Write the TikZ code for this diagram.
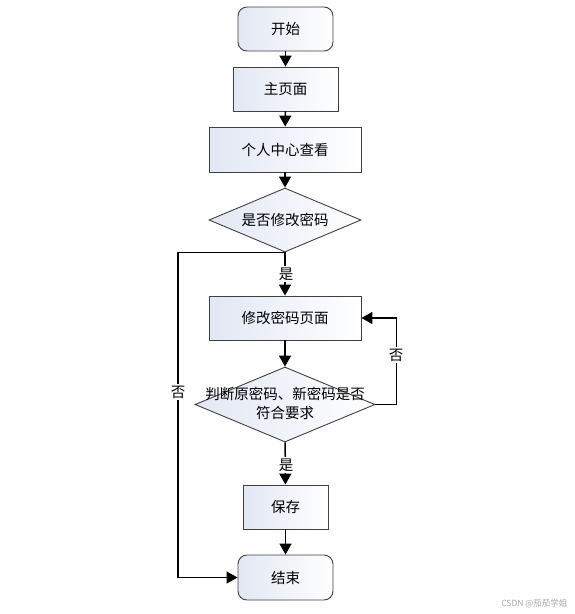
\documentclass[tikz,border=0pt]{standalone}
\usepackage{fontspec}
\newfontfamily\cjk{Noto Sans CJK SC}
\usetikzlibrary{shapes.geometric,arrows.meta}
\definecolor{shadeA}{RGB}{226,231,244}
\begin{document}
\begin{tikzpicture}[x=1pt,y=-1pt,
 txt/.style={font=\cjk\fontsize{14.5}{19}\selectfont},
 box/.style={txt, draw=black!75, line width=0.9pt, left color=shadeA, right color=white, inner sep=0pt},
 startend/.style={box, rounded corners=9pt},
 dia/.style={diamond, draw=black!75, line width=0.9pt, inner sep=0pt, left color=shadeA, right color=white},
 conn/.style={line width=1.5pt, -{Triangle[width=12pt,length=11pt]}},
 lbl/.style={txt, fill=white, inner sep=1.5pt}
]
\useasboundingbox (0,0) rectangle (574,614);
\node[startend, minimum width=95, minimum height=44] (start) at (285.5,29) {开始};
\node[box, minimum width=105, minimum height=44] (home) at (285.5,89) {主页面};
\node[box, minimum width=152, minimum height=45] (center) at (285,149.5) {个人中心查看};
\node[dia, minimum width=152, minimum height=64] (d1) at (285,220) {};
\node[txt] (d1t) at (d1.center) {是否修改密码};
\node[box, minimum width=152, minimum height=44] (pwpage) at (285,318) {修改密码页面};
\node[dia, minimum width=180, minimum height=75] (d2) at (285,404.5) {};
\node[txt, align=center] (d2t) at (285,403) {判断原密码、新密码是否\\符合要求};
\node[box, minimum width=85, minimum height=44] (save) at (285.5,507) {保存};
\node[startend, minimum width=95, minimum height=45] (end) at (285.5,577.5) {结束};

\draw[conn] (start) -- (home);
\draw[conn] (home) -- (center);
\draw[conn] (center) -- (d1);
\draw[conn] (d1) -- (pwpage);
\node[lbl] (yes1) at (286,274) {是};
\draw[conn] (pwpage) -- (d2);
\draw[conn] (d2) -- (save);
\node[lbl] (yes2) at (286,465) {是};
\draw[conn] (save) -- (end);
\draw[conn] (d1.south) -- ++(-107,0) |- (end.west);
\node[lbl] (no1) at (178,392) {否};
\draw[conn] (d2.east) -- ++(21,0) |- (pwpage.east);
\node[lbl] (no2) at (396,355) {否};
\node[font=\cjk\fontsize{8.5}{10}\selectfont, text=black!35, anchor=east] (wm) at (571,604) {CSDN @茄茄学姐};
\end{tikzpicture}
\end{document}
